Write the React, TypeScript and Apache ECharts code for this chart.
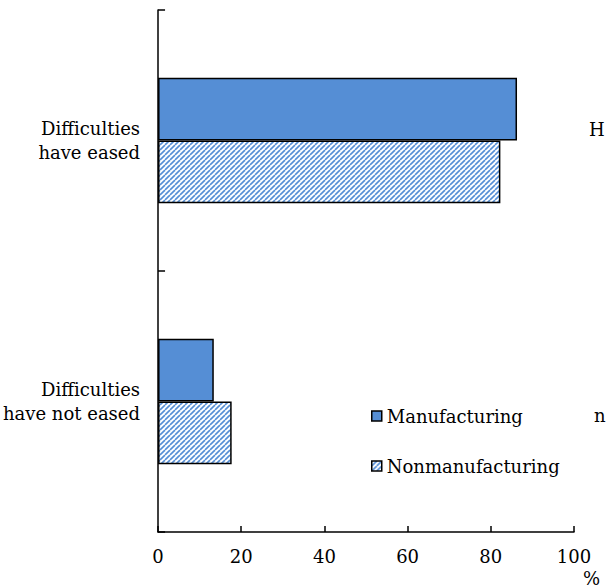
import React, { useEffect, useRef } from "react";
import * as echarts from "echarts";

const categories = ["Difficulties\nhave eased", "Difficulties\nhave not eased"];
const manufacturing = [86.3, 13.4];
const nonmanufacturing = [82.3, 17.7];
const seriesNames = ["Manufacturing", "Nonmanufacturing"];
const xMin = 0;
const xMax = 100;
const xStep = 20;

const BLUE = "#558ED5";
const FONT = "DejaVu Serif";
const FS = 18;

function makeHatch(): HTMLCanvasElement {
  const c = document.createElement("canvas");
  const p = 5;
  c.width = p;
  c.height = p;
  const ctx = c.getContext("2d")!;
  ctx.fillStyle = "#ffffff";
  ctx.fillRect(0, 0, p, p);
  ctx.strokeStyle = BLUE;
  ctx.lineWidth = 1.6;
  for (const k of [-p, 0, p]) {
    ctx.beginPath();
    ctx.moveTo(k, p);
    ctx.lineTo(k + p, 0);
    ctx.stroke();
  }
  return c;
}

export default function App() {
  const ref = useRef<HTMLDivElement>(null);
  useEffect(() => {
    if (!ref.current) return;
    const chart = echarts.init(ref.current, undefined, { renderer: "svg" });
    const hatch = makeHatch();
    chart.setOption({
      animation: false,
      textStyle: { fontFamily: FONT, color: "#000" },
      grid: { left: 157, right: 32, top: 10, bottom: 56 },
      xAxis: {
        type: "value",
        min: xMin,
        max: xMax,
        interval: xStep,
        axisLine: { show: true, lineStyle: { color: "#000", width: 1.5 } },
        axisTick: { show: true, inside: true, length: 6, lineStyle: { color: "#000", width: 1.5 } },
        splitLine: { show: false },
        axisLabel: { color: "#000", fontFamily: FONT, fontSize: FS, margin: 15 },
      },
      yAxis: {
        type: "category",
        data: categories,
        inverse: true,
        axisLine: { show: true, lineStyle: { color: "#000", width: 1.5 } },
        axisTick: { show: true, inside: true, length: 7, lineStyle: { color: "#000", width: 1.5 } },
        axisLabel: {
          color: "#000",
          fontFamily: FONT,
          fontSize: FS,
          lineHeight: 24,
          margin: 18,
          align: "right",
        },
      },
      legend: {
        orient: "vertical",
        left: 366,
        top: 402,
        itemGap: 32,
        itemWidth: 10,
        itemHeight: 10,
        itemStyle: { borderColor: "#000", borderWidth: 1.5 },
        icon: "rect",
        textStyle: { color: "#000", fontFamily: FONT, fontSize: FS },
        data: seriesNames,
      },
      graphic: [
        {
          type: "text",
          x: 583,
          y: 569,
          style: { text: "%", fill: "#000", font: `${FS}px ${FONT}` },
        },
        {
          type: "text",
          x: 589,
          y: 120,
          style: { text: "H", fill: "#000", font: `${FS}px ${FONT}` },
        },
        {
          type: "text",
          x: 594,
          y: 406,
          style: { text: "n", fill: "#000", font: `${FS}px ${FONT}` },
        },
      ],
      series: [
        {
          name: seriesNames[0],
          type: "bar",
          data: manufacturing,
          barGap: "0%",
          barCategoryGap: "52%",
          itemStyle: { color: BLUE, borderColor: "#000", borderWidth: 1.5 },
        },
        {
          name: seriesNames[1],
          type: "bar",
          data: nonmanufacturing,
          barGap: "0%",
          barCategoryGap: "52%",
          itemStyle: {
            color: { image: hatch, repeat: "repeat" },
            borderColor: "#000",
            borderWidth: 1.5,
          },
        },
      ],
    });
    return () => chart.dispose();
  }, []);
  return <div ref={ref} style={{ width: 606, height: 588, position: "absolute", left: 0, top: 0 }} />;
}
